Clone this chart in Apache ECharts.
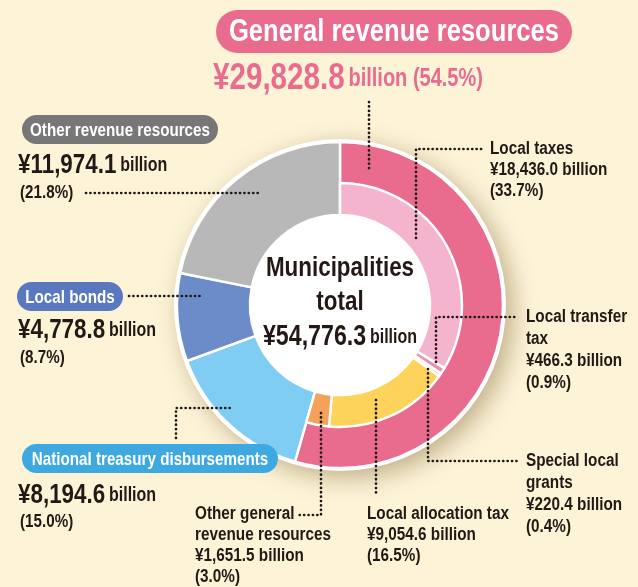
<!DOCTYPE html>
<html>
<head>
<meta charset="utf-8">
<script src="https://cdn.jsdelivr.net/npm/echarts@6.0.0/dist/echarts.min.js"></script>
<style>
  html, body { margin: 0; padding: 0; background: #fdf4d8; }
  #chart { width: 638px; height: 587px; }
</style>
</head>
<body>
<div id="chart"></div>
<script>
// revenue breakdown, municipalities total (billion yen)
const total = 54776.3;
const mainNames = ['General revenue resources', 'National treasury disbursements', 'Local bonds', 'Other revenue resources'];
const mainValues = [29828.8, 8194.6, 4778.8, 11974.1];
const mainShares = [54.5, 15.0, 8.7, 21.8];
const mainColors = ['#e96b8e', '#7fcdf2', '#6c8bc9', '#b8b8b8'];
const badgeColors = ['#e96b8e', '#3ea9e0', '#5a78bf', '#777777'];

const subNames = ['Local taxes', 'Local transfer tax', 'Special local grants', 'Local allocation tax', 'Other general revenue resources'];
const subValues = [18436.0, 466.3, 220.4, 9054.6, 1651.5];
const subShares = [33.7, 0.9, 0.4, 16.5, 3.0];
const subColors = ['#f4b4cd', '#ef8fae', '#c9a36a', '#fdd35c', '#f4a259'];

// no condensed face installed, so squeeze Liberation Sans horizontally
const FONT = '"Liberation Sans", Arial, sans-serif';
const SQ = 0.8;
const INK = '#231815';

const yen = v => '¥' + v.toLocaleString('en-US', { minimumFractionDigits: 1, maximumFractionDigits: 1 });
const pct = v => '(' + v.toFixed(1) + '%)';

const chart = echarts.init(document.getElementById('chart'));

function txt(x, y, text, opts, sq) {
  return {
    type: 'text', x: x, y: y, z: 100, silent: true, scaleX: sq || SQ,
    style: Object.assign({ text: text, fill: INK, font: 'bold 17px ' + FONT }, opts || {})
  };
}
function badge(x, y, w, h, color, text, size) {
  return {
    type: 'group', x: x, y: y, silent: true,
    children: [
      { type: 'rect', z: 100, shape: { x: 0, y: 0, width: w, height: h, r: h / 2 }, style: { fill: color } },
      { type: 'text', z: 101, x: w / 2, y: h / 2 + 1, scaleX: SQ, style: { text: text, fill: '#fff', font: 'bold ' + size + 'px ' + FONT, align: 'center', verticalAlign: 'middle' } }
    ]
  };
}
function dots(points) {
  return {
    type: 'polyline', silent: true, z: 100,
    shape: { points: points },
    style: { stroke: INK, lineWidth: 2.7, lineDash: [0.1, 4.3], lineCap: 'round', fill: null }
  };
}
function amount(x, y, v, big, small, color) {
  return txt(x, y, '{a|' + yen(v) + '} {b|billion}', {
    verticalAlign: 'middle',
    rich: {
      a: { font: 'bold ' + big + 'px ' + FONT, fill: color || INK },
      b: { font: 'bold ' + small + 'px ' + FONT, fill: color || INK }
    }
  });
}
function block(x, y, lines, lh) {
  return txt(x, y, lines.join('\n'), { font: 'bold 18px ' + FONT, lineHeight: lh || 21, verticalAlign: 'top' }, 0.85);
}

const graphics = [
  // General revenue resources
  badge(216, 10, 356, 43, badgeColors[0], mainNames[0], 32),
  txt(213, 79, '{a|' + yen(mainValues[0]) + '} {b|billion ' + pct(mainShares[0]) + '}', {
    verticalAlign: 'middle',
    rich: {
      a: { font: 'bold 37px ' + FONT, fill: badgeColors[0] },
      b: { font: 'bold 25px ' + FONT, fill: badgeColors[0] }
    }
  }),
  dots([[369, 102], [369, 170]]),
  // Other revenue resources
  badge(22, 115, 196, 29, badgeColors[3], mainNames[3], 19),
  amount(18, 165, mainValues[3], 28, 20),
  txt(20, 193, pct(mainShares[3]), { font: 'bold 19px ' + FONT, verticalAlign: 'middle' }),
  dots([[86, 193], [262, 193]]),
  // Local bonds
  badge(17, 282, 106, 29, badgeColors[2], mainNames[2], 19),
  dots([[129, 296], [200, 296]]),
  amount(18, 330, mainValues[2], 28, 20),
  txt(20, 358, pct(mainShares[2]), { font: 'bold 19px ' + FONT, verticalAlign: 'middle' }),
  // National treasury disbursements
  badge(22, 444, 256, 29, badgeColors[1], mainNames[1], 19),
  dots([[176, 438], [176, 408], [233, 408]]),
  amount(18, 495, mainValues[1], 28, 20),
  txt(20, 522, pct(mainShares[1]), { font: 'bold 19px ' + FONT, verticalAlign: 'middle' }),
  // Local taxes
  dots([[416, 238], [416, 149], [485, 149]]),
  block(490, 139, [subNames[0], yen(subValues[0]) + ' billion', pct(subShares[0])]),
  // Local transfer tax
  dots([[436, 362], [436, 317], [518, 317]]),
  block(526, 306, ['Local transfer', 'tax', yen(subValues[1]) + ' billion', pct(subShares[1])], 22),
  // Special local grants
  dots([[428, 369], [428, 461], [520, 461]]),
  block(526, 450, ['Special local', 'grants', yen(subValues[2]) + ' billion', pct(subShares[2])], 22),
  // Local allocation tax
  dots([[376, 400], [376, 496]]),
  block(367, 504, [subNames[3], yen(subValues[3]) + ' billion', pct(subShares[3])]),
  // Other general revenue resources
  dots([[321, 413], [321, 515], [296, 515]]),
  block(195, 504, ['Other general', 'revenue resources', yen(subValues[4]) + ' billion', pct(subShares[4])]),
  // centre
  txt(340, 268, 'Municipalities', { font: 'bold 28px ' + FONT, align: 'center', verticalAlign: 'middle' }),
  txt(340, 302, 'total', { font: 'bold 28px ' + FONT, align: 'center', verticalAlign: 'middle' }),
  txt(340, 337, '{a|' + yen(total) + '} {b|billion}', {
    align: 'center', verticalAlign: 'middle',
    rich: {
      a: { font: 'bold 29px ' + FONT, fill: INK },
      b: { font: 'bold 20px ' + FONT, fill: INK }
    }
  })
];

const restValue = mainValues.slice(1).reduce((a, b) => a + b, 0);

chart.setOption({
  backgroundColor: '#fdf4d8',
  animation: false,
  series: [
    {
      type: 'pie', silent: true, z: 1,
      center: [340, 305], radius: [0, 166],
      label: { show: false }, labelLine: { show: false },
      itemStyle: {
        color: '#ffffff',
        shadowBlur: 24, shadowColor: 'rgba(110,80,30,0.42)', shadowOffsetX: 7, shadowOffsetY: 7
      },
      data: [{ value: total, name: 'total' }]
    },
    {
      type: 'pie', silent: true, z: 2,
      center: [340, 305], radius: [90, 163], startAngle: 90, clockwise: true,
      label: { show: false }, labelLine: { show: false },
      itemStyle: { borderColor: '#ffffff', borderWidth: 2.5 },
      data: mainNames.map((n, i) => ({ name: n, value: mainValues[i], itemStyle: { color: mainColors[i] } }))
    },
    {
      type: 'pie', silent: true, z: 3,
      center: [340, 305], radius: [90, 122], startAngle: 90, clockwise: true,
      label: { show: false }, labelLine: { show: false },
      itemStyle: { borderColor: '#ffffff', borderWidth: 2.5 },
      data: subNames.map((n, i) => ({ name: n, value: subValues[i], itemStyle: { color: subColors[i] } }))
        .concat([{ name: 'rest', value: restValue, itemStyle: { color: 'rgba(0,0,0,0)', borderWidth: 0 } }])
    }
  ],
  graphic: { elements: graphics }
});
</script>
</body>
</html>
